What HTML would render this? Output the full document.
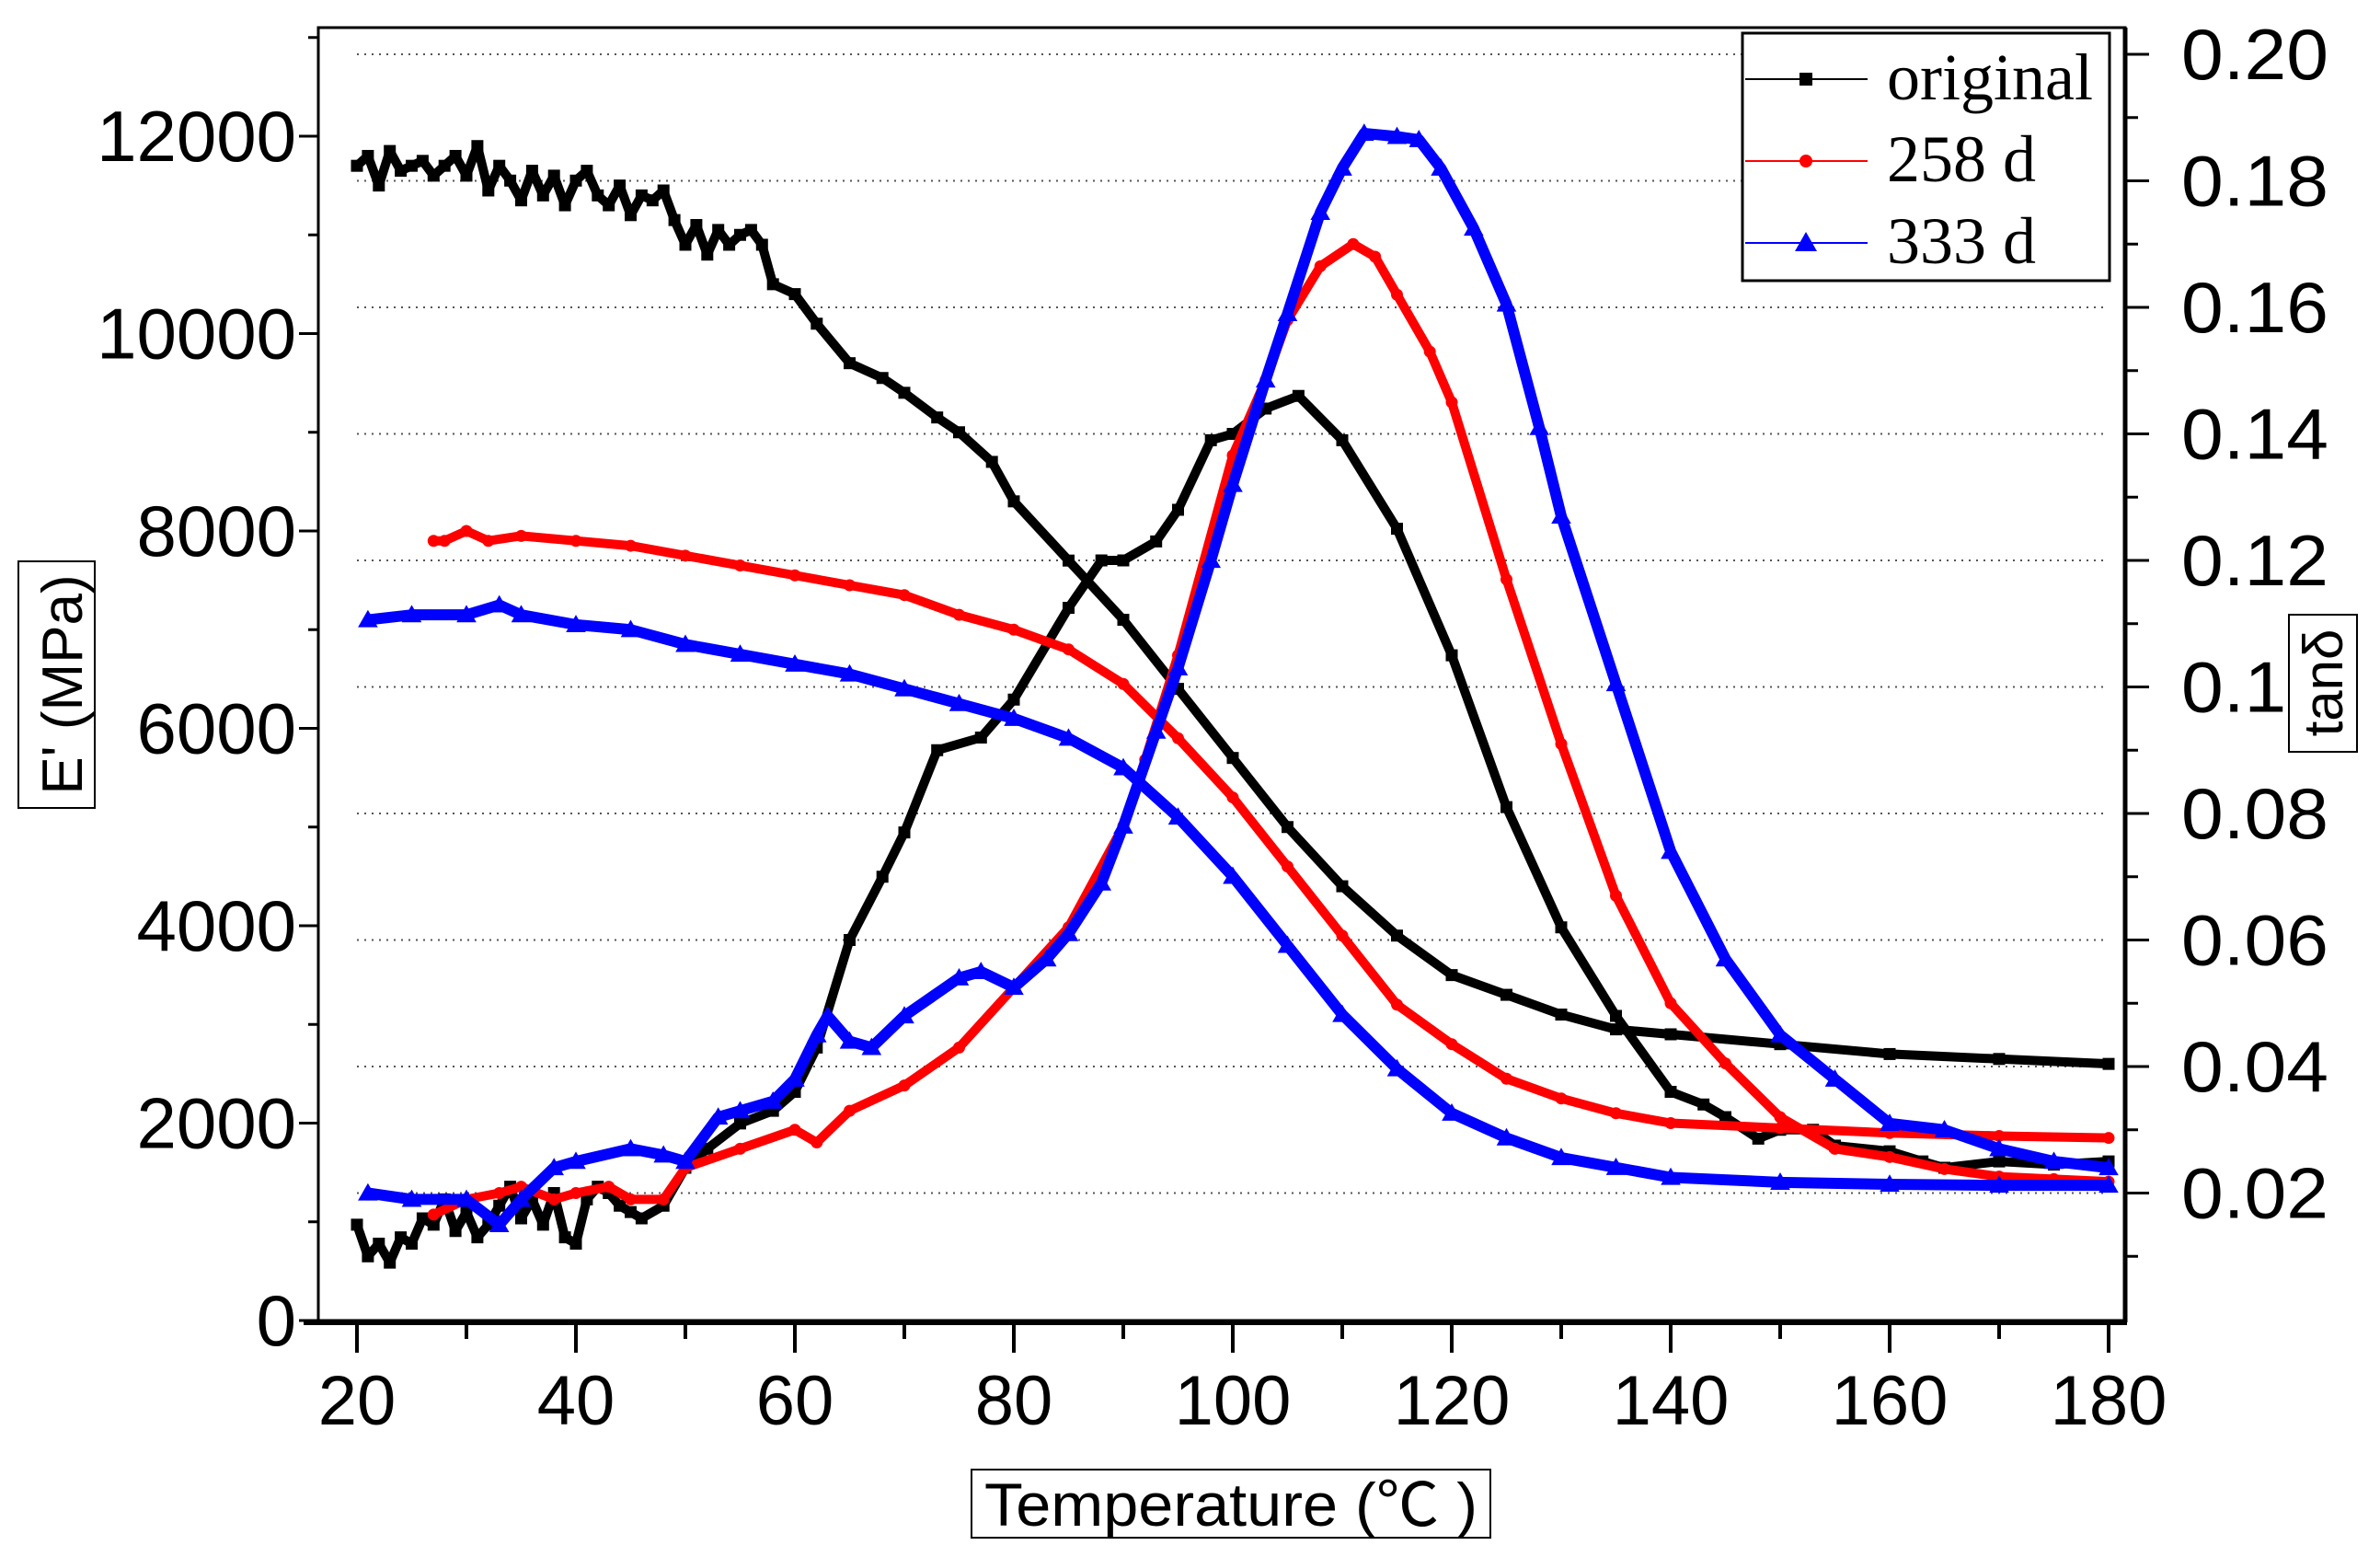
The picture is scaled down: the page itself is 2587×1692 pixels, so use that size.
<!DOCTYPE html>
<html><head><meta charset="utf-8"><style>
body{margin:0;background:#fff}
svg{display:block}
</style></head><body>
<svg id="chart" width="2587" height="1692" viewBox="0 0 2587 1692" xmlns="http://www.w3.org/2000/svg" font-family="Liberation Sans, sans-serif">
<g id="grid"></g>
<g id="axes"></g>
<g id="series"></g>
<g id="legend">
 <rect x="1894" y="36" width="399" height="269" fill="#fff" stroke="#000" stroke-width="3"/>
</g>
<g>
 <rect x="20" y="610" width="83" height="268" fill="#fff" stroke="#000" stroke-width="2"/>
 <text x="0" y="0" font-size="62" transform="translate(89,744) rotate(-90)" text-anchor="middle">E' (MPa)</text>
</g>
<g>
 <rect x="2488" y="668" width="74" height="149" fill="#fff" stroke="#000" stroke-width="2"/>
 <text x="0" y="0" font-size="60" transform="translate(2546,742) rotate(-90)" text-anchor="middle">tanδ</text>
</g>
<g>
 <rect x="1056" y="1597" width="564" height="74" fill="#fff" stroke="#000" stroke-width="2"/>
 <text x="1338" y="1658" font-size="66" text-anchor="middle" textLength="536" lengthAdjust="spacingAndGlyphs" font-family="Liberation Sans, Noto Sans CJK SC, sans-serif">Temperature (℃ )</text>
</g>
</svg>
<script>
// ---- data ----
const xTicks=[20,40,60,80,100,120,140,160,180];
const yLeftTicks=[0,2000,4000,6000,8000,10000,12000];
const yRightTicks=["0.02","0.04","0.06","0.08","0.10","0.12","0.14","0.16","0.18","0.20"];
const seriesNames=["original","258 d","333 d"];
const seriesColors=["#000000","#ff0000","#0000ff"];

const origET=[20,21,22,23,24,25,26,27,28,29,30,31,32,33,34,35,36,37,38,39,40,41,42,43,44,45,46,47,48,49,50,51,52,53,54,55,56,57,58,60,62,65,68,70,73,75,78,80,85,90,95,100,105,110,115,120,125,130,135,140,150,160,170,180];
const origE=[11700,11800,11500,11850,11650,11700,11750,11600,11700,11800,11600,11900,11450,11700,11550,11350,11650,11400,11600,11300,11550,11650,11400,11300,11500,11200,11400,11350,11450,11150,10900,11100,10800,11050,10900,11000,11050,10900,10500,10400,10100,9700,9550,9400,9150,9000,8700,8300,7700,7100,6400,5700,5000,4400,3900,3500,3300,3100,2950,2900,2800,2700,2650,2600];
const origTanT=[20,21,22,23,24,25,26,27,28,29,30,31,32,33,34,35,36,37,38,39,40,41,42,43,44,45,46,48,50,52,55,58,60,62,65,68,70,73,77,80,85,88,90,93,95,98,100,103,106,110,115,120,125,130,135,140,143,145,148,150,153,155,160,163,165,170,175,180];
const origTan=[0.015,0.010,0.012,0.009,0.013,0.012,0.016,0.015,0.019,0.014,0.017,0.013,0.015,0.018,0.021,0.016,0.019,0.015,0.020,0.013,0.012,0.019,0.021,0.020,0.018,0.017,0.016,0.018,0.024,0.027,0.031,0.033,0.036,0.043,0.060,0.070,0.077,0.090,0.092,0.098,0.1125,0.120,0.120,0.123,0.128,0.139,0.140,0.144,0.146,0.139,0.125,0.105,0.081,0.062,0.048,0.036,0.034,0.032,0.0286,0.030,0.030,0.0275,0.0266,0.025,0.024,0.025,0.0245,0.025];

const r258ET=[27,28,30,32,35,40,45,50,55,60,65,70,75,80,85,90,95,100,105,110,115,120,125,130,135,140,150,160,170,180];
const r258E=[7900,7900,8000,7900,7950,7900,7850,7750,7650,7550,7450,7350,7150,7000,6800,6450,5900,5300,4600,3900,3200,2800,2450,2250,2100,2000,1950,1900,1870,1850];
const r258TanT=[27,30,33,35,38,40,43,45,48,50,55,60,62,65,70,75,80,85,90,92,95,100,103,105,108,111,113,115,118,120,125,130,135,140,145,150,155,160,165,170,175,180];
const r258Tan=[0.0166,0.019,0.020,0.021,0.019,0.020,0.021,0.019,0.019,0.024,0.027,0.030,0.028,0.033,0.037,0.043,0.0525,0.062,0.078,0.0885,0.105,0.1366,0.1485,0.158,0.1665,0.170,0.168,0.162,0.153,0.145,0.117,0.091,0.067,0.050,0.0405,0.032,0.027,0.0257,0.0238,0.0226,0.0222,0.0218];

const b333ET=[21,25,30,33,35,40,45,50,55,60,65,70,75,80,85,90,95,100,105,110,115,120,125,130,135,140,150,160,170,180];
const b333E=[7100,7150,7150,7250,7150,7050,7000,6850,6750,6650,6550,6400,6250,6100,5900,5600,5100,4500,3800,3100,2550,2100,1850,1650,1550,1450,1400,1380,1370,1370];
const b333TanT=[21,25,30,33,35,38,40,45,48,50,53,55,58,60,62,63,65,67,70,75,77,80,83,85,88,90,93,95,98,100,103,105,108,110,112,115,117,119,122,125,128,130,135,140,145,150,155,160,165,170,175,180];
const b333Tan=[0.020,0.019,0.019,0.015,0.019,0.024,0.025,0.027,0.026,0.025,0.032,0.033,0.0345,0.038,0.045,0.048,0.044,0.043,0.048,0.054,0.055,0.0525,0.057,0.061,0.069,0.078,0.093,0.103,0.120,0.132,0.1485,0.159,0.175,0.182,0.1875,0.187,0.1865,0.182,0.1725,0.1605,0.141,0.127,0.1005,0.074,0.057,0.045,0.038,0.031,0.030,0.027,0.025,0.024];

// ---- scales ----
const X=t=>388+(t-20)*11.9;
const YL=e=>1435-e*(1287/12000);
const YR=v=>1434-v*6875;
const NS="http://www.w3.org/2000/svg";
function mk(tag,attrs,parent){const el=document.createElementNS(NS,tag);for(const k in attrs)el.setAttribute(k,attrs[k]);parent.appendChild(el);return el;}
const grid=document.getElementById('grid'),axes=document.getElementById('axes'),ser=document.getElementById('series'),leg=document.getElementById('legend');

yRightTicks.forEach(v=>{const y=YR(parseFloat(v));
 const l=mk('line',{x1:388,x2:2292,y1:y,y2:y,stroke:'#555','stroke-width':2,'stroke-dasharray':'2 6'},grid);
 
 
});
const fr=mk('rect',{x:346,y:30,width:1964,height:1405,fill:'none',stroke:'#000','stroke-width':3},axes);


mk('line',{x1:330,x2:2312,y1:1437,y2:1437,stroke:'#000','stroke-width':6},axes);
mk('line',{x1:2310,x2:2310,y1:30,y2:1437,stroke:'#000','stroke-width':5},axes);

for(let t=20;t<=180;t+=10){const maj=(t%20===0);mk('line',{x1:X(t),x2:X(t),y1:1437,y2:maj?1470:1455,stroke:'#000','stroke-width':4},axes);}
xTicks.forEach(t=>{const tx=mk('text',{x:X(t),y:1548,'font-size':76,'text-anchor':'middle'},axes);tx.textContent=t;
 
 });
for(let e=0;e<=13000;e+=1000){const maj=(e%2000===0);mk('line',{x1:maj?325:335,x2:346,y1:YL(e),y2:YL(e),stroke:'#000','stroke-width':3},axes);}
yLeftTicks.forEach(e=>{const tx=mk('text',{x:322,y:YL(e)+27,'font-size':78,'text-anchor':'end'},axes);tx.textContent=e;
 
 });
for(let i=1;i<=20;i++){const v=i*0.01;const maj=(i%2===0);mk('line',{x1:2310,x2:maj?2336:2324,y1:YR(v),y2:YR(v),stroke:'#000','stroke-width':3},axes);}
yRightTicks.forEach(v=>{const tx=mk('text',{x:2371,y:YR(parseFloat(v))+27,'font-size':78,textLength:'160',lengthAdjust:'spacingAndGlyphs'},axes);tx.textContent=v;
 
 });

function marker(type,x,y,c,g,s){
 if(type===0)return mk('rect',{x:x-s/2,y:y-s/2,width:s,height:s,fill:c},g);
 if(type===1)return mk('circle',{cx:x,cy:y,r:s/2,fill:c},g);
 return mk('polygon',{points:`${x},${y-s*0.6} ${x-s*0.6},${y+s*0.45} ${x+s*0.6},${y+s*0.45}`,fill:c},g);
}
function drawSeries(ts,vs,yf,type,color,name){
 const g=mk('g',{},ser);
 
 
 const pts=ts.map((t,i)=>X(t)+','+yf(vs[i])).join(' ');
 mk('polyline',{points:pts,fill:'none',stroke:color,'stroke-width':type===2?12:10,'stroke-linejoin':'round'},g);
 ts.forEach((t,i)=>{const m=marker(type,X(t),yf(vs[i]),color,g,type===2?18:13);
  
  });
}
drawSeries(origET,origE,YL,0,seriesColors[0],'original-modulus');
drawSeries(origTanT,origTan,YR,0,seriesColors[0],'original-tand');
drawSeries(r258ET,r258E,YL,1,seriesColors[1],'258d-modulus');
drawSeries(r258TanT,r258Tan,YR,1,seriesColors[1],'258d-tand');
drawSeries(b333ET,b333E,YL,2,seriesColors[2],'333d-modulus');
drawSeries(b333TanT,b333Tan,YR,2,seriesColors[2],'333d-tand');

seriesNames.forEach((n,i)=>{const y=86+i*89;const g=mk('g',{},leg);
 
 
 mk('line',{x1:1897,x2:2030,y1:y,y2:y,stroke:seriesColors[i],'stroke-width':2},g);
 marker(i,1963,y,seriesColors[i],g,i===2?20:14);
 const tx=mk('text',{x:2051,y:y+22,'font-size':72,style:'font-family:"Liberation Serif",serif'},g);tx.textContent=n;});
</script>
</body></html>
